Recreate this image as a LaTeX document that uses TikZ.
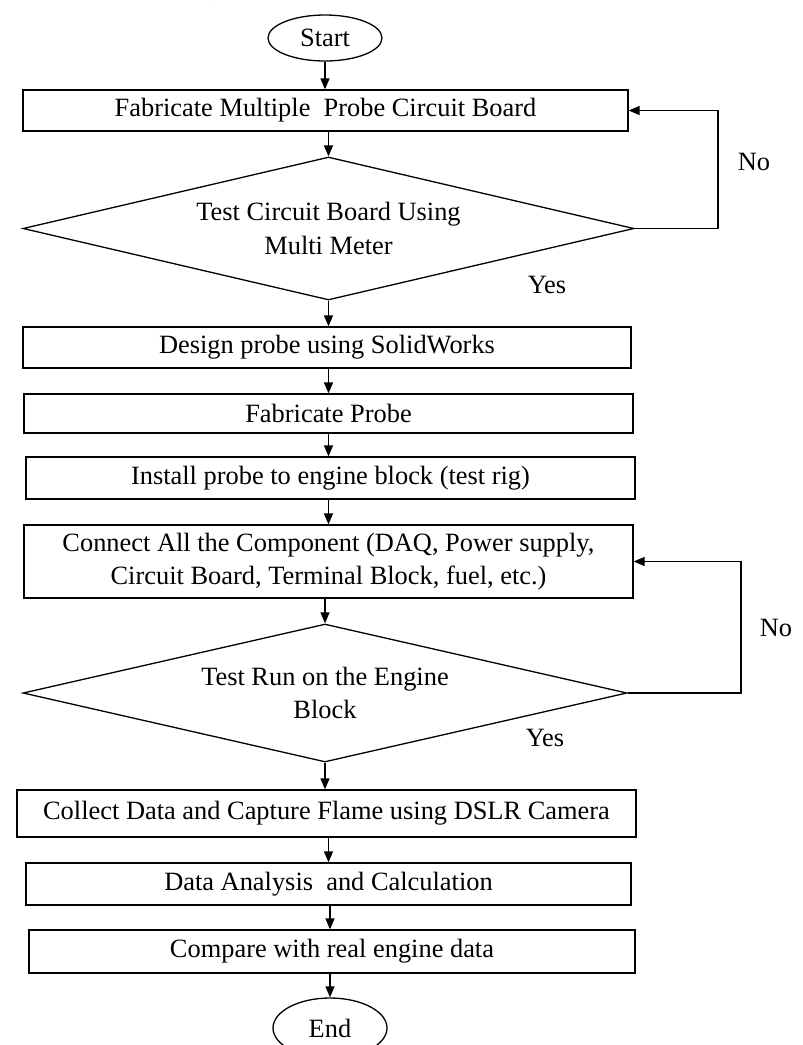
\documentclass[tikz,border=0pt]{standalone}
\usepackage{fontspec}
\setmainfont{Liberation Serif}
\newfontfamily\titlefont{Carlito}
\usetikzlibrary{shapes.geometric,arrows.meta}
\definecolor{titleblue}{RGB}{0,112,192}
\begin{document}
\begin{tikzpicture}[x=1pt,y=-1pt,
  line width=1.3pt,
  txt/.style={font=\fontsize{26.4pt}{33.5pt}\selectfont, align=center, inner sep=0pt},
  procbox/.style={txt, draw, rectangle},
  decide/.style={txt, draw, diamond, shape aspect=4.27},
  term/.style={txt, draw, ellipse},
  arr/.style={-{Triangle[length=11pt,width=9pt]}},
  lbl/.style={txt}]
\useasboundingbox (0,0) rectangle (803,1045);
\fill[white] (0,0) rectangle (803,1045);

% cut-off title
\node[anchor=base east, inner sep=0pt, text=titleblue, font=\titlefont\bfseries\fontsize{36pt}{40pt}\selectfont] (title) at (239,-5.5) {Methodology};

\node[term, minimum width=114pt, minimum height=46pt] (start) at (325,38) {Start};
\node[procbox, minimum width=605pt, minimum height=41pt] (b1) at (325.5,110.5) {Fabricate Multiple \ Probe Circuit Board};
\node[decide, minimum width=611pt, minimum height=143pt] (d1) at (328.5,228.5) {Test Circuit Board Using\\Multi Meter};
\node[procbox, minimum width=608pt, minimum height=41pt] (b2) at (327,347.5) {Design probe using SolidWorks};
\node[procbox, minimum width=609pt, minimum height=39pt] (b3) at (328.5,413.5) {Fabricate Probe};
\node[procbox, minimum width=609pt, minimum height=42pt] (b4) at (330.5,478) {Install probe to engine block (test rig)};
\node[procbox, minimum width=609pt, minimum height=73pt] (b5) at (328.5,561.5) {Connect All the Component (DAQ, Power supply,\\Circuit Board, Terminal Block, fuel, etc.)};
\node[decide, minimum width=604pt, minimum height=138pt] (d2) at (325,693) {Test Run on the Engine\\Block};
\node[procbox, minimum width=619pt, minimum height=47pt] (b6) at (326.5,813.5) {Collect Data and Capture Flame using DSLR Camera};
\node[procbox, minimum width=605pt, minimum height=42pt] (b7) at (328.5,884) {Data Analysis \ and Calculation};
\node[procbox, minimum width=606pt, minimum height=43pt] (b8) at (332,951.5) {Compare with real engine data};
\node[term, minimum width=114pt, minimum height=60pt] (end) at (330,1028) {End};

\node[lbl] (no1) at (754,162) {No};
\node[lbl] (yes1) at (547,285) {Yes};
\node[lbl] (no2) at (776,628) {No};
\node[lbl] (yes2) at (545,738) {Yes};

\draw[arr] (start.south) -- (start.south |- b1.north);
\draw[arr] (b1.south -| d1.north) -- (d1.north);
\draw[arr] (d1.south) -- (d1.south |- b2.north);
\draw[arr] (b2.south -| d1.south) -- (d1.south |- b3.north);
\draw[arr] (b3.south -| d1.south) -- (d1.south |- b4.north);
\draw[arr] (b4.south -| d1.south) -- (d1.south |- b5.north);
\draw[arr] (b5.south -| d2.north) -- (d2.north);
\draw[arr] (d2.south) -- (d2.south |- b6.north);
\draw[arr] (b6.south -| d1.south) -- (d1.south |- b7.north);
\draw[arr] (b7.south -| end.north) -- (end.north |- b8.north);
\draw[arr] (b8.south -| end.north) -- (end.north);

\coordinate (r1) at (718,110.5);
\coordinate (r2) at (741,561.5);
\draw[arr] (d1.east) -| (r1) -- (b1.east);
\draw[arr] (d2.east) -| (r2) -- (b5.east);
\end{tikzpicture}
\end{document}
